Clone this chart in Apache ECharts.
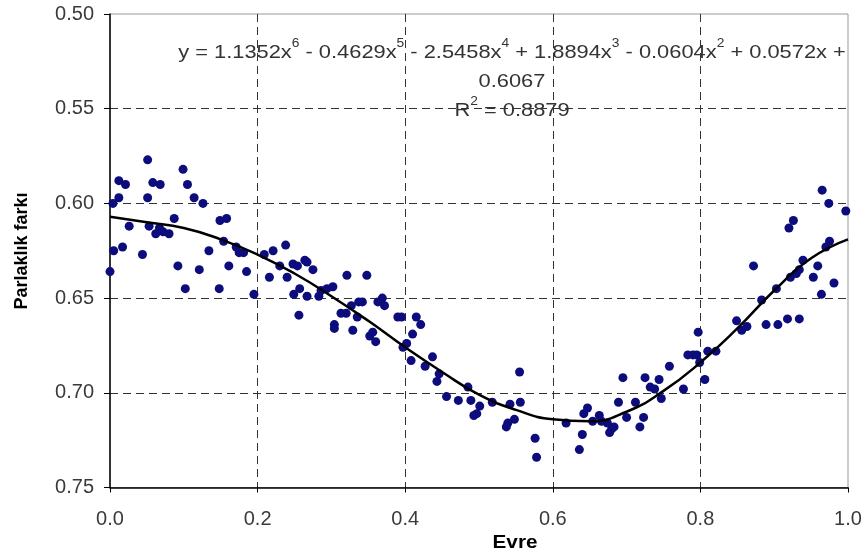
<!DOCTYPE html>
<html>
<head>
<meta charset="utf-8">
<script src="https://cdn.jsdelivr.net/npm/echarts@6/dist/echarts.min.js"></script>
<style>html,body{margin:0;padding:0;background:#fff}#c{width:866px;height:553px}</style>
</head>
<body>
<div id="c"></div>
<script>
// Observed points: phase (Evre) and magnitude difference (Parlaklık farkı)
const phase = [0.000,0.004,0.005,0.012,0.012,0.017,0.021,0.026,0.044,0.051,0.051,0.053,0.058,0.062,0.067,0.068,0.072,0.080,0.087,0.092,0.099,0.102,0.105,0.114,0.121,0.126,0.134,0.148,0.149,0.158,0.154,0.161,0.171,0.175,0.181,0.185,0.195,0.209,0.216,0.221,0.230,0.238,0.240,0.248,0.249,0.254,0.256,0.257,0.264,0.267,0.267,0.275,0.283,0.286,0.294,0.302,0.304,0.304,0.313,0.321,0.320,0.327,0.329,0.335,0.337,0.342,0.348,0.352,0.356,0.360,0.363,0.369,0.372,0.390,0.395,0.397,0.402,0.408,0.410,0.415,0.421,0.427,0.437,0.443,0.446,0.456,0.472,0.485,0.489,0.501,0.493,0.497,0.518,0.542,0.556,0.555,0.548,0.539,0.537,0.576,0.578,0.618,0.642,0.647,0.640,0.636,0.654,0.663,0.666,0.674,0.680,0.677,0.683,0.689,0.695,0.700,0.712,0.718,0.723,0.725,0.732,0.738,0.744,0.747,0.758,0.777,0.783,0.790,0.795,0.797,0.799,0.806,0.810,0.821,0.849,0.856,0.863,0.872,0.883,0.889,0.903,0.905,0.918,0.920,0.926,0.922,0.930,0.934,0.934,0.939,0.953,0.959,0.964,0.965,0.970,0.975,0.974,0.981,0.997];
const mag = [0.636,0.600,0.625,0.588,0.597,0.623,0.590,0.612,0.627,0.577,0.597,0.612,0.589,0.616,0.613,0.590,0.615,0.616,0.608,0.633,0.582,0.645,0.590,0.597,0.635,0.600,0.625,0.645,0.609,0.608,0.620,0.633,0.623,0.626,0.626,0.636,0.648,0.627,0.639,0.625,0.633,0.622,0.639,0.632,0.648,0.633,0.659,0.645,0.630,0.631,0.649,0.635,0.649,0.646,0.645,0.644,0.664,0.666,0.658,0.638,0.658,0.654,0.667,0.660,0.652,0.652,0.638,0.670,0.668,0.673,0.652,0.650,0.654,0.660,0.660,0.676,0.674,0.683,0.669,0.660,0.664,0.686,0.681,0.694,0.690,0.702,0.704,0.697,0.704,0.707,0.712,0.711,0.705,0.706,0.705,0.689,0.714,0.716,0.718,0.724,0.734,0.716,0.711,0.708,0.722,0.730,0.715,0.712,0.715,0.716,0.719,0.721,0.718,0.705,0.692,0.713,0.705,0.718,0.713,0.692,0.697,0.698,0.693,0.703,0.686,0.698,0.680,0.680,0.680,0.668,0.684,0.693,0.678,0.678,0.662,0.667,0.665,0.633,0.651,0.664,0.645,0.664,0.661,0.613,0.609,0.639,0.637,0.635,0.661,0.630,0.639,0.633,0.648,0.593,0.623,0.620,0.600,0.642,0.604];

// Trendline at 0.05 phase steps
const trendX = [0.00,0.05,0.10,0.15,0.20,0.25,0.30,0.35,0.40,0.45,0.50,0.55,0.60,0.65,0.70,0.75,0.80,0.85,0.90,0.95,1.00];
const trendY = [0.607,0.610,0.613,0.619,0.627,0.637,0.649,0.662,0.676,0.689,0.701,0.709,0.714,0.715,0.710,0.699,0.684,0.666,0.646,0.629,0.619];

// Tick labels
const xTickLabels = ['0.0','0.2','0.4','0.6','0.8','1.0'];
const yTickLabels = ['0.50','0.55','0.60','0.65','0.70','0.75'];

const xName = 'Evre';
const yName = 'Parlaklık farkı';

const chart = echarts.init(document.getElementById('c'), null, {renderer: 'canvas'});
const tickFont = {fontFamily: 'Liberation Sans', fontSize: 20, color: '#3a3a3a'};
chart.setOption({
  animation: false,
  backgroundColor: '#fff',
  grid: {left: 110, right: 18, top: 14, bottom: 65.5, show: true, borderColor: '#999', borderWidth: 1, backgroundColor: 'transparent'},
  xAxis: {
    type: 'value', min: 0, max: 1, interval: 0.2,
    axisLine: {show: true, onZero: false, lineStyle: {color: '#000', width: 1.5}},
    axisTick: {show: true, inside: false, length: 5, lineStyle: {color: '#000'}},
    axisLabel: Object.assign({margin: 22, formatter: v => xTickLabels[Math.round(v / 0.2)]}, tickFont),
    splitLine: {show: true, showMinLine: false, showMaxLine: false, lineStyle: {color: '#333', type: [8, 5], width: 1}}
  },
  yAxis: {
    type: 'value', min: 0.5, max: 0.75, interval: 0.05, inverse: true,
    axisLine: {show: true, onZero: false, lineStyle: {color: '#000', width: 1.5}},
    axisTick: {show: true, inside: false, length: 6, lineStyle: {color: '#000'}},
    axisLabel: Object.assign({margin: 16, formatter: v => yTickLabels[Math.round((v - 0.5) / 0.05)]}, tickFont),
    splitLine: {show: true, showMinLine: false, showMaxLine: false, lineStyle: {color: '#333', type: [8, 5], width: 1}}
  },
  series: [
    {
      type: 'scatter', symbol: 'circle', symbolSize: 9,
      itemStyle: {color: '#0c0c7c', opacity: 1},
      data: phase.map((p, i) => [p, mag[i]]), z: 2
    },
    {
      type: 'line', smooth: true, symbol: 'none',
      lineStyle: {color: '#000', width: 2.5},
      data: trendX.map((p, i) => [p, trendY[i]]), z: 3
    }
  ],
  graphic: [
    {
      type: 'text', x: 512, y: 38, scaleX: 1.15, z: 10,
      style: {
        text: 'y = 1.1352x{s|6} - 0.4629x{s|5} - 2.5458x{s|4} + 1.8894x{s|3} - 0.0604x{s|2} + 0.0572x +\n0.6067\nR{s|2} = 0.8879',
        x: 0, y: 0, align: 'center', verticalAlign: 'top',
        fontFamily: 'Liberation Sans', fontSize: 19, lineHeight: 29, fill: '#333',
        rich: {s: {fontSize: 12, verticalAlign: 'top', fontFamily: 'Liberation Sans', fill: '#333', lineHeight: 29, padding: [0, 0, 10, 0]}}
      }
    },
    {
      type: 'text', x: 515, y: 543, scaleX: 1.15, z: 10,
      style: {text: xName, x: 0, y: 0, align: 'center', verticalAlign: 'middle', fontFamily: 'Liberation Sans', fontWeight: 'bold', fontSize: 18, fill: '#000'}
    },
    {
      type: 'text', x: 22, y: 251, rotation: Math.PI / 2, z: 10,
      style: {text: yName, x: 0, y: 0, align: 'center', verticalAlign: 'middle', fontFamily: 'Liberation Sans', fontWeight: 'bold', fontSize: 18, fill: '#000'}
    }
  ]
});
</script>
</body>
</html>
